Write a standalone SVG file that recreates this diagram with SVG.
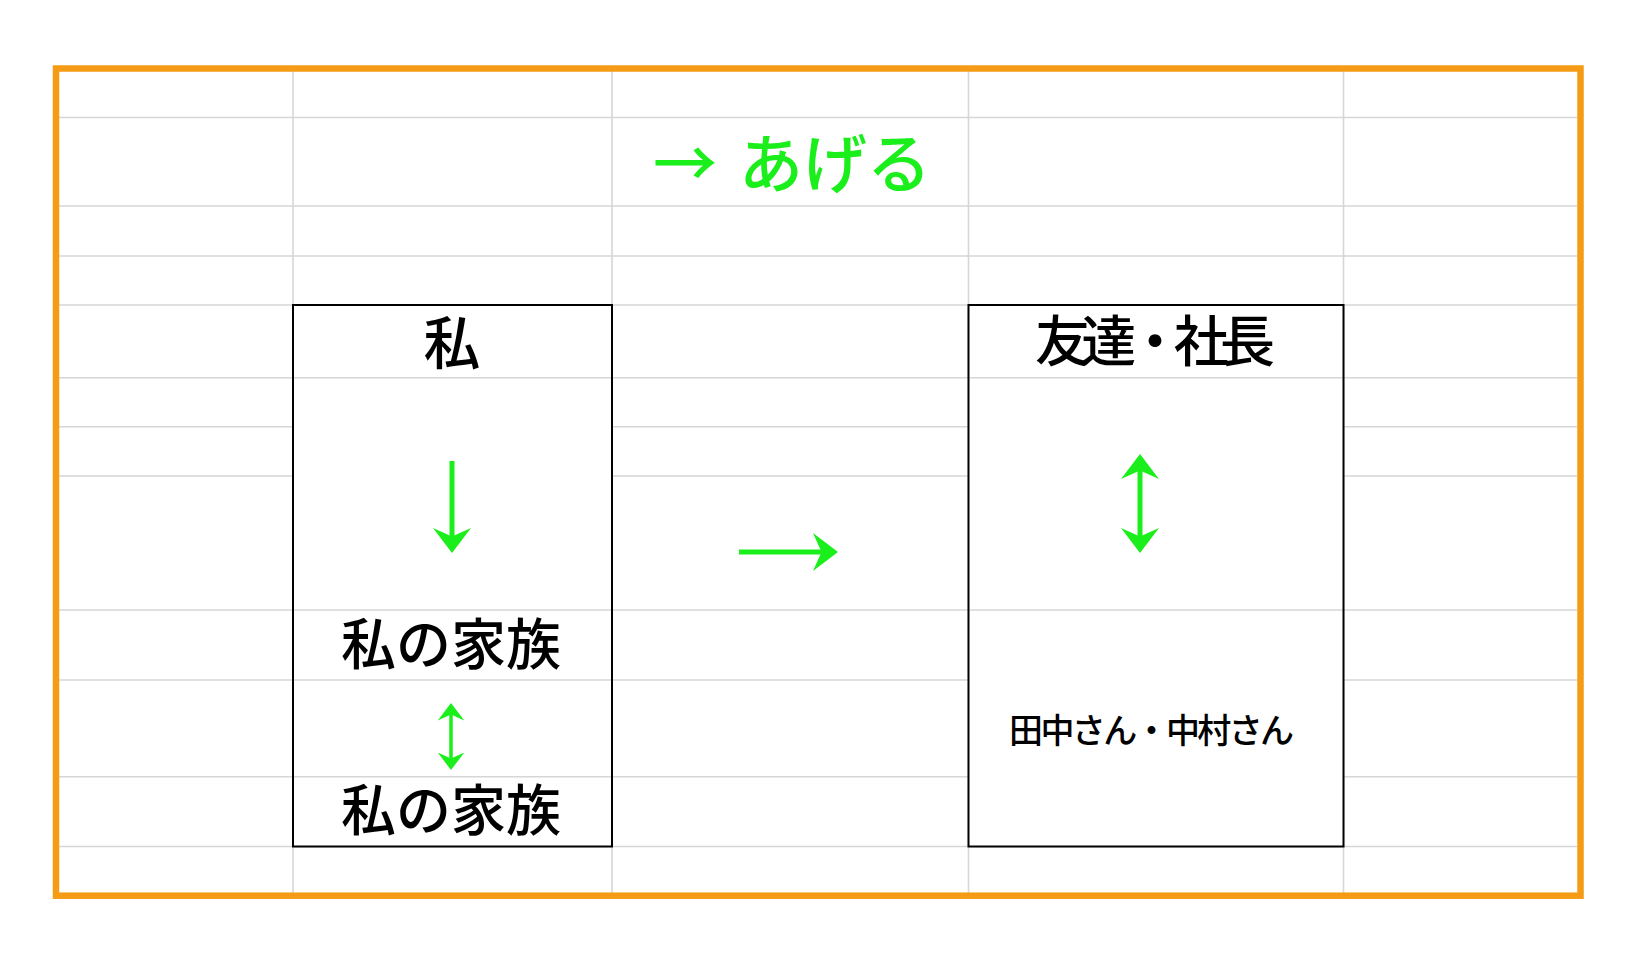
<svg xmlns="http://www.w3.org/2000/svg" width="1645" height="965" viewBox="0 0 1645 965">
  <style>
    .grid line { stroke: #d6d6d6; stroke-width: 1.6; }
    .box { fill: #ffffff; stroke: none; }
    .boxline { fill: none; stroke: #000000; stroke-width: 2; }
    .t { font-family: "Noto Sans CJK JP", "Noto Sans", sans-serif; font-weight: 500; fill: #000000; text-anchor: middle; }
    .g { font-family: "Noto Sans CJK JP", "Noto Sans", sans-serif; font-weight: 500; fill: #1bef1b; }
    .arrow { stroke: #1bef1b; fill: none; stroke-linecap: butt; }
  </style>
  <defs>
    <marker id="head" viewBox="0 -4 5.2 8" refX="3" refY="0" markerWidth="5.2" markerHeight="8" markerUnits="strokeWidth" orient="auto-start-reverse">
      <path d="M5,0 L0,-3.8 L1.7,0 L0,3.8 Z" fill="#1bef1b"/>
    </marker>
  </defs>
  <rect x="0" y="0" width="1645" height="965" fill="#ffffff"/>

  <g id="grid" class="grid">
    <line x1="59" y1="117.5" x2="1577" y2="117.5"/>
    <line x1="59" y1="206" x2="1577" y2="206"/>
    <line x1="59" y1="256" x2="1577" y2="256"/>
    <line x1="59" y1="305" x2="1577" y2="305"/>
    <line x1="59" y1="377.7" x2="1577" y2="377.7"/>
    <line x1="59" y1="426.7" x2="1577" y2="426.7"/>
    <line x1="59" y1="476" x2="1577" y2="476"/>
    <line x1="59" y1="610" x2="1577" y2="610"/>
    <line x1="59" y1="680" x2="1577" y2="680"/>
    <line x1="59" y1="776.7" x2="1577" y2="776.7"/>
    <line x1="59" y1="846.5" x2="1577" y2="846.5"/>
    <line x1="293" y1="71" x2="293" y2="893"/>
    <line x1="612" y1="71" x2="612" y2="893"/>
    <line x1="968.5" y1="71" x2="968.5" y2="893"/>
    <line x1="1343.5" y1="71" x2="1343.5" y2="893"/>
  </g>

  <g id="frame">
    <rect x="56" y="68.5" width="1524.5" height="827.2" fill="none" stroke="#f59b16" stroke-width="6.5"/>
  </g>

  <g id="title">
    <text class="g" x="653" y="187" font-size="64">→<tspan x="739">あげる</tspan></text>
  </g>

  <g id="node-watashi">
    <rect class="box" x="293" y="305" width="319" height="541.5"/>
    <g class="grid">
      <line x1="294" y1="377.7" x2="611" y2="377.7"/>
      <line x1="294" y1="610" x2="611" y2="610"/>
      <line x1="294" y1="680" x2="611" y2="680"/>
      <line x1="294" y1="776.7" x2="611" y2="776.7"/>
    </g>
    <rect class="boxline" x="293" y="305" width="319" height="541.5"/>
    <text class="t" x="452" y="364" font-size="57">私</text>
    <text class="t" x="451" y="664" font-size="55">私の家族</text>
    <text class="t" x="451" y="830" font-size="55">私の家族</text>
  </g>

  <g id="node-tomodachi">
    <rect class="box" x="968.5" y="305" width="375" height="541.5"/>
    <g class="grid">
      <line x1="969.5" y1="377.7" x2="1342.5" y2="377.7"/>
      <line x1="969.5" y1="610" x2="1342.5" y2="610"/>
    </g>
    <rect class="boxline" x="968.5" y="305" width="375" height="541.5"/>
    <text class="t" x="1155" y="361" font-size="55" textLength="240" lengthAdjust="spacing">友達・社長</text>
    <text class="t" x="1151.5" y="743" font-size="34" textLength="285" lengthAdjust="spacing">田中さん・中村さん</text>
  </g>

  <g id="connectors">
    <line class="arrow" x1="452" y1="461" x2="452" y2="543" stroke-width="5" marker-end="url(#head)"/>
    <line class="arrow" x1="451" y1="710" x2="451" y2="763" stroke-width="3.5" marker-start="url(#head)" marker-end="url(#head)"/>
    <line class="arrow" x1="739" y1="552" x2="828" y2="552" stroke-width="5" marker-end="url(#head)"/>
    <line class="arrow" x1="1140" y1="464" x2="1140" y2="543" stroke-width="5" marker-start="url(#head)" marker-end="url(#head)"/>
  </g>
</svg>
